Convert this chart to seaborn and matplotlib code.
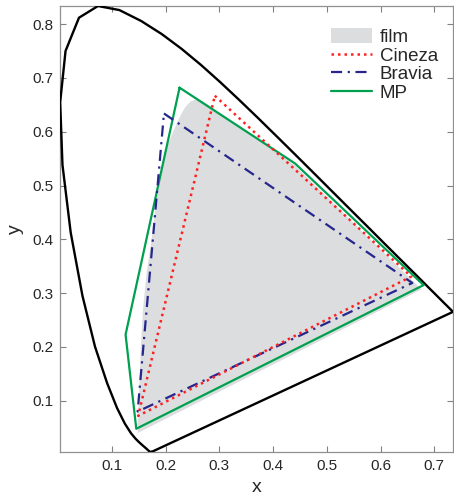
import matplotlib
matplotlib.use("Agg")
import matplotlib.pyplot as plt
import numpy as np
import pandas as pd
import seaborn as sns
from matplotlib.lines import Line2D
from matplotlib.patches import Patch

# CIE 1931 spectral locus, 380-700 nm in 5 nm steps
locus_x = [0.1741, 0.1740, 0.1738, 0.1736, 0.1733, 0.1730, 0.1726, 0.1721, 0.1714, 0.1703,
           0.1689, 0.1669, 0.1644, 0.1611, 0.1566, 0.1510, 0.1440, 0.1355, 0.1241, 0.1096,
           0.0913, 0.0687, 0.0454, 0.0235, 0.0082, 0.0039, 0.0139, 0.0389, 0.0743, 0.1142,
           0.1547, 0.1929, 0.2296, 0.2658, 0.3016, 0.3373, 0.3731, 0.4087, 0.4441, 0.4788,
           0.5125, 0.5448, 0.5752, 0.6029, 0.6270, 0.6482, 0.6658, 0.6801, 0.6915, 0.7006,
           0.7079, 0.7140, 0.7190, 0.7230, 0.7260, 0.7283, 0.7300, 0.7311, 0.7320, 0.7327,
           0.7334, 0.7340, 0.7344, 0.7346, 0.7347]
locus_y = [0.0050, 0.0050, 0.0049, 0.0049, 0.0048, 0.0048, 0.0048, 0.0048, 0.0051, 0.0058,
           0.0069, 0.0086, 0.0109, 0.0138, 0.0177, 0.0227, 0.0297, 0.0399, 0.0578, 0.0868,
           0.1327, 0.2007, 0.2950, 0.4127, 0.5384, 0.6548, 0.7502, 0.8120, 0.8338, 0.8262,
           0.8059, 0.7816, 0.7543, 0.7243, 0.6923, 0.6589, 0.6245, 0.5896, 0.5547, 0.5202,
           0.4866, 0.4544, 0.4242, 0.3965, 0.3725, 0.3514, 0.3340, 0.3197, 0.3083, 0.2993,
           0.2920, 0.2859, 0.2809, 0.2770, 0.2740, 0.2717, 0.2700, 0.2689, 0.2680, 0.2673,
           0.2666, 0.2660, 0.2656, 0.2654, 0.2653]

# gamuts
film_x = [0.148, 0.150, 0.154, 0.158, 0.165, 0.174, 0.184, 0.195, 0.205, 0.214, 0.225,
          0.236, 0.246, 0.256, 0.268, 0.282, 0.440, 0.676]
film_y = [0.040, 0.100, 0.200, 0.270, 0.340, 0.400, 0.480, 0.547, 0.578, 0.600, 0.625,
          0.645, 0.656, 0.660, 0.657, 0.648, 0.538, 0.307]

cineza_x = [0.2916, 0.657, 0.149]
cineza_y = [0.667, 0.331, 0.072]

bravia_x = [0.197, 0.659, 0.148]
bravia_y = [0.634, 0.319, 0.080]

mp_x = [0.226, 0.441, 0.680, 0.1455, 0.1256]
mp_y = [0.682, 0.541, 0.315, 0.048, 0.223]

labels = ["film", "Cineza", "Bravia", "MP"]
xticks = [0.1, 0.2, 0.3, 0.4, 0.5, 0.6, 0.7]
yticks = [0.1, 0.2, 0.3, 0.4, 0.5, 0.6, 0.7, 0.8]


def closed(xs, ys):
    return pd.DataFrame({"x": list(xs) + [xs[0]], "y": list(ys) + [ys[0]]})


sns.set_style("ticks")
plt.rcParams["font.family"] = ["Liberation Sans", "DejaVu Sans"]

fig = plt.figure(figsize=(4.54, 4.96), dpi=100)
ax = fig.add_axes([60 / 454, 44 / 496, 393 / 454, 446 / 496])

film_color = "#dcdddf"
red = "#ff2020"
blue = "#26268c"
green = "#00a050"
dashdot = (0, (5, 2.5, 1, 2.5))
dotted = (0, (1, 1.6))

film_df = closed(film_x, film_y)
ax.fill(film_df["x"], film_df["y"], color=film_color, lw=0, zorder=1)

sns.lineplot(data=closed(locus_x, locus_y), x="x", y="y", sort=False, estimator=None,
             color="black", lw=1.7, ax=ax, zorder=3)
sns.lineplot(data=closed(mp_x, mp_y), x="x", y="y", sort=False, estimator=None,
             color=green, lw=1.6, ax=ax, zorder=4)
sns.lineplot(data=closed(bravia_x, bravia_y), x="x", y="y", sort=False, estimator=None,
             color=blue, lw=1.6, ax=ax, zorder=5, linestyle=dashdot)
sns.lineplot(data=closed(cineza_x, cineza_y), x="x", y="y", sort=False, estimator=None,
             color=red, lw=1.8, ax=ax, zorder=6, linestyle=dotted)

ax.set_xlim(min(locus_x) - 0.0003, max(locus_x))
ax.set_ylim(min(locus_y), max(locus_y))
ax.set_xticks(xticks)
ax.set_yticks(yticks)
ax.set_xticklabels([f"{t:.1f}" for t in xticks])
ax.set_yticklabels([f"{t:.1f}" for t in yticks])
ax.tick_params(direction="in", top=True, right=True, length=4, width=0.8,
               color="#808080", labelsize=11, pad=5)
for s in ax.spines.values():
    s.set_color("#909090")
    s.set_linewidth(0.9)
ax.set_xlabel("x", fontsize=14, labelpad=4)
ax.set_ylabel("y", fontsize=14, labelpad=6)

handles = [
    Patch(facecolor=film_color, edgecolor="none"),
    Line2D([], [], color=red, lw=1.8, linestyle=dotted),
    Line2D([], [], color=blue, lw=1.6, linestyle=dashdot),
    Line2D([], [], color=green, lw=1.6),
]
ax.legend(handles, labels, loc="upper right", bbox_to_anchor=(0.99, 0.975), frameon=False,
          fontsize=13.5, handlelength=2.2, handleheight=0.8, handletextpad=0.4,
          labelspacing=0.05, borderaxespad=0.2)

fig.savefig("out.png", dpi=100)
